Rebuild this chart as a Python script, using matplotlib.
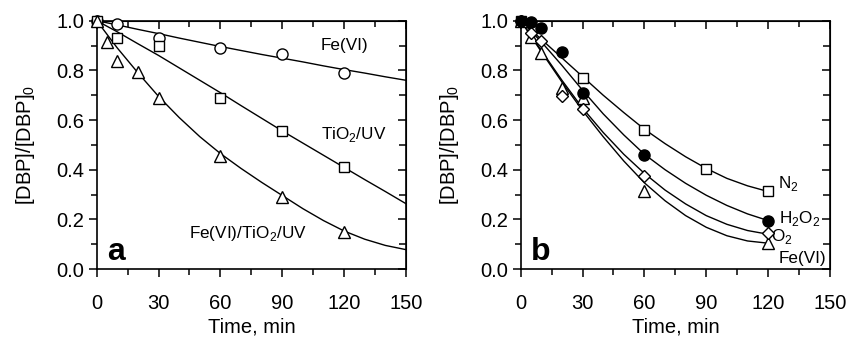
import numpy as np
import matplotlib
matplotlib.use('Agg')
import matplotlib.pyplot as plt
from matplotlib.ticker import MultipleLocator

plt.rcParams['font.family'] = ['Liberation Sans', 'DejaVu Sans']
plt.rcParams['mathtext.fontset'] = 'custom'
plt.rcParams['mathtext.rm'] = 'Liberation Sans'

# ---- panel a: measured points ----
t_fe_a = [0, 10, 30, 60, 90, 120]
y_fe_a = [1.0, 0.987, 0.929, 0.889, 0.865, 0.79]
t_tio2_a = [0, 10, 30, 60, 90, 120]
y_tio2_a = [1.0, 0.929, 0.898, 0.687, 0.556, 0.41]
t_mix_a = [0, 5, 10, 20, 30, 60, 90, 120]
y_mix_a = [1.0, 0.915, 0.839, 0.795, 0.687, 0.456, 0.292, 0.149]

# ---- panel a: fitted curves ----
t_fit_a = [0, 10, 20, 30, 40, 50, 60, 70, 80, 90, 100, 110, 120, 130, 140, 150]
fit_fe_a = [1.0, 0.983, 0.965, 0.948, 0.930, 0.913, 0.896, 0.880, 0.864, 0.849,
            0.834, 0.818, 0.803, 0.789, 0.774, 0.760]
fit_tio2_a = [1.0, 0.955, 0.907, 0.860, 0.810, 0.760, 0.710, 0.658, 0.607, 0.556,
              0.507, 0.458, 0.409, 0.360, 0.312, 0.263]
fit_mix_a = [1.0, 0.890, 0.790, 0.695, 0.610, 0.533, 0.465, 0.405, 0.349, 0.296,
             0.243, 0.195, 0.153, 0.120, 0.095, 0.078]

# ---- panel b: measured points ----
t_n2 = [0, 30, 60, 90, 120]
y_n2 = [1.0, 0.768, 0.56, 0.403, 0.314]
t_h2o2 = [0, 5, 10, 20, 30, 60, 120]
y_h2o2 = [1.0, 0.996, 0.97, 0.875, 0.708, 0.459, 0.195]
t_o2 = [0, 5, 10, 20, 30, 60, 120]
y_o2 = [1.0, 0.949, 0.92, 0.697, 0.643, 0.375, 0.144]
t_fe_b = [0, 5, 10, 20, 30, 60, 120]
y_fe_b = [1.0, 0.936, 0.869, 0.728, 0.69, 0.315, 0.106]

# ---- panel b: fitted curves ----
t_fit_b = [0, 10, 20, 30, 40, 50, 60, 70, 80, 90, 100, 110, 120]
fit_n2 = [1.0, 0.925, 0.850, 0.775, 0.700, 0.630, 0.563, 0.505, 0.452, 0.405,
          0.365, 0.335, 0.312]
fit_h2o2 = [1.0, 0.915, 0.820, 0.720, 0.625, 0.540, 0.462, 0.400, 0.345, 0.297,
            0.256, 0.222, 0.195]
fit_o2 = [1.0, 0.880, 0.760, 0.648, 0.550, 0.462, 0.385, 0.318, 0.262, 0.215,
          0.180, 0.155, 0.140]
fit_fe_b = [1.0, 0.875, 0.753, 0.638, 0.533, 0.435, 0.347, 0.275, 0.215, 0.168,
            0.134, 0.113, 0.104]

x_ticks = [0, 30, 60, 90, 120, 150]
y_ticks = [0.0, 0.2, 0.4, 0.6, 0.8, 1.0]


def style_axis(ax):
    ax.set_xlim(0, 150)
    ax.set_ylim(0, 1.0)
    ax.set_xticks(x_ticks)
    ax.set_yticks(y_ticks)
    ax.set_yticklabels(['%.1f' % v for v in y_ticks])
    ax.xaxis.set_minor_locator(MultipleLocator(15))
    ax.yaxis.set_minor_locator(MultipleLocator(0.1))
    ax.tick_params(which='both', direction='out', width=1.1, labelsize=14.5,
                   top=False, right=False)
    ax.tick_params(which='major', length=6)
    ax.tick_params(which='minor', length=4)
    ax.tick_params(axis='x', which='major', pad=12)
    ax.tick_params(axis='y', which='major', pad=3)
    for s in ax.spines.values():
        s.set_linewidth(1.2)
    top = ax.secondary_xaxis('top')
    top.set_xticks(x_ticks)
    top.xaxis.set_minor_locator(MultipleLocator(15))
    top.tick_params(which='both', direction='in', labeltop=False, width=1.1)
    top.tick_params(which='major', length=6)
    top.tick_params(which='minor', length=4)
    right = ax.secondary_yaxis('right')
    right.set_yticks(y_ticks)
    right.yaxis.set_minor_locator(MultipleLocator(0.1))
    right.tick_params(which='both', direction='in', labelright=False, width=1.1)
    right.tick_params(which='major', length=6)
    right.tick_params(which='minor', length=5)
    ax.set_xlabel('Time, min', fontsize=14.5, labelpad=3)
    ax.set_ylabel('[DBP]/[DBP]$_0$', fontsize=14.5, labelpad=14)


mk = dict(linestyle='none', markersize=8, markerfacecolor='white',
          markeredgecolor='black', markeredgewidth=1.0, clip_on=False, zorder=5)

fig = plt.figure(figsize=(8.49, 3.38), dpi=100)
ax1 = fig.add_axes([0.1139, 0.2041, 0.3643, 0.7347])
ax2 = fig.add_axes([0.6133, 0.2041, 0.3643, 0.7347])

# panel a
ax1.plot(t_fit_a, fit_fe_a, color='black', lw=1.0)
ax1.plot(t_fit_a, fit_tio2_a, color='black', lw=1.0)
ax1.plot(t_fit_a, fit_mix_a, color='black', lw=1.0)
ax1.plot(t_fe_a, y_fe_a, marker='o', **mk)
ax1.plot(t_tio2_a, y_tio2_a, marker='s', **dict(mk, markersize=7.5))
ax1.plot(t_mix_a, y_mix_a, marker='^', **dict(mk, markersize=9))
ax1.text(120, 0.90, 'Fe(VI)', fontsize=12.3, ha='center', va='center')
ax1.text(124.5, 0.54, 'TiO$_2$/UV', fontsize=12.3, ha='center', va='center')
ax1.text(73.5, 0.145, 'Fe(VI)/TiO$_2$/UV', fontsize=12.3, ha='center', va='center')
ax1.text(5, 0.07, 'a', fontsize=23, fontweight='bold', ha='left', va='center')
style_axis(ax1)

# panel b
for c in [fit_n2, fit_h2o2, fit_o2, fit_fe_b]:
    ax2.plot(t_fit_b, c, color='black', lw=1.0)
ax2.plot(t_n2, y_n2, marker='s', **dict(mk, markersize=7.5))
ax2.plot(t_fe_b, y_fe_b, marker='^', **dict(mk, markersize=9))
ax2.plot(t_o2, y_o2, marker='D', **dict(mk, markersize=6.5))
ax2.plot(t_h2o2, y_h2o2, marker='o', **dict(mk, markerfacecolor='black'))
ax2.text(125, 0.345, 'N$_2$', fontsize=12.3, ha='left', va='center')
ax2.text(125.3, 0.205, 'H$_2$O$_2$', fontsize=12.3, ha='left', va='center')
ax2.text(121.5, 0.13, 'O$_2$', fontsize=12.3, ha='left', va='center')
ax2.text(125, 0.044, 'Fe(VI)', fontsize=12.3, ha='left', va='center')
ax2.text(5, 0.07, 'b', fontsize=23, fontweight='bold', ha='left', va='center')
style_axis(ax2)

fig.savefig('out.png', dpi=100)
